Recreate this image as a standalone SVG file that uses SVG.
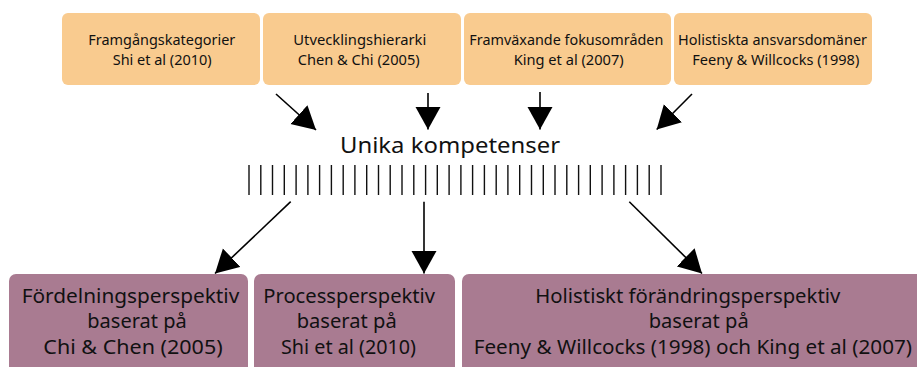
<svg xmlns="http://www.w3.org/2000/svg" width="917" height="367" viewBox="0 0 917 367">
  <style>
    .src { fill: #F9CB8F; }
    .persp { fill: #A97B91; }
    text { font-family: "Noto Sans", "Open Sans", "Liberation Sans", sans-serif; fill: #111; }
    .t { font-size: 14px; }
    .b { font-size: 20px; }
    .h { font-size: 22px; }
    .conn { stroke: #000; stroke-width: 1.6; fill: none; marker-end: url(#head); }
    .ticks { stroke: #111; stroke-width: 1.4; fill: none; }
  </style>
  <defs>
    <marker id="head" markerUnits="userSpaceOnUse" markerWidth="24" markerHeight="26" refX="23" refY="12.75" orient="auto">
      <path d="M0,0 L23,12.75 L0,25.5 z" fill="#000"/>
    </marker>
  </defs>
  <rect width="917" height="367" fill="#fff"/>

  <!-- source frameworks -->
  <g id="framgang">
    <rect class="src" x="62" y="13" width="198" height="72" rx="6"/>
    <text class="t" x="88.3" y="45" textLength="147" lengthAdjust="spacingAndGlyphs">Framgångskategorier</text>
    <text class="t" x="112.7" y="65" textLength="99" lengthAdjust="spacingAndGlyphs">Shi et al (2010)</text>
  </g>
  <g id="utveckling">
    <rect class="src" x="263" y="13" width="198" height="72" rx="6"/>
    <text class="t" x="293.3" y="45" textLength="133" lengthAdjust="spacingAndGlyphs">Utvecklingshierarki</text>
    <text class="t" x="297.7" y="65" textLength="122" lengthAdjust="spacingAndGlyphs">Chen &amp; Chi (2005)</text>
  </g>
  <g id="framvaxande">
    <rect class="src" x="464" y="13" width="207" height="72" rx="6"/>
    <text class="t" x="469.3" y="45" textLength="194" lengthAdjust="spacingAndGlyphs">Framväxande fokusområden</text>
    <text class="t" x="513.7" y="65" textLength="110" lengthAdjust="spacingAndGlyphs">King et al (2007)</text>
  </g>
  <g id="holistiskta">
    <rect class="src" x="674" y="13" width="198" height="72" rx="6"/>
    <text class="t" x="678" y="45" textLength="189" lengthAdjust="spacingAndGlyphs">Holistiskta ansvarsdomäner</text>
    <text class="t" x="692.3" y="65" textLength="167" lengthAdjust="spacingAndGlyphs">Feeny &amp; Willcocks (1998)</text>
  </g>

  <!-- central competences -->
  <g id="unika">
    <text class="h" x="340" y="152.7" textLength="220" lengthAdjust="spacingAndGlyphs">Unika kompetenser</text>
    <path class="ticks" d="M249,165v30 M260.8,165v30 M272.5,165v30 M284.3,165v30 M296.1,165v30 M307.9,165v30 M319.6,165v30 M331.4,165v30 M343.2,165v30 M354.9,165v30 M366.7,165v30 M378.5,165v30 M390.2,165v30 M402,165v30 M413.8,165v30 M425.6,165v30 M437.3,165v30 M449.1,165v30 M460.9,165v30 M472.6,165v30 M484.4,165v30 M496.2,165v30 M507.9,165v30 M519.7,165v30 M531.5,165v30 M543.3,165v30 M555,165v30 M566.8,165v30 M578.6,165v30 M590.3,165v30 M602.1,165v30 M613.9,165v30 M625.6,165v30 M637.4,165v30 M649.2,165v30 M661,165v30"/>
  </g>

  <!-- perspectives -->
  <g id="fordelning">
    <rect class="persp" x="9" y="274" width="239" height="110" rx="7"/>
    <text class="b" x="21.7" y="303" textLength="217.6" lengthAdjust="spacingAndGlyphs">Fördelningsperspektiv</text>
    <text class="b" x="87.3" y="328.3" textLength="99.4" lengthAdjust="spacingAndGlyphs">baserat på</text>
    <text class="b" x="43.3" y="354.3" textLength="179.4" lengthAdjust="spacingAndGlyphs">Chi &amp; Chen (2005)</text>
  </g>
  <g id="process">
    <rect class="persp" x="254" y="274" width="201" height="110" rx="7"/>
    <text class="b" x="263.3" y="303" textLength="171.7" lengthAdjust="spacingAndGlyphs">Processperspektiv</text>
    <text class="b" x="296.7" y="328.3" textLength="100" lengthAdjust="spacingAndGlyphs">baserat på</text>
    <text class="b" x="281" y="354.3" textLength="135" lengthAdjust="spacingAndGlyphs">Shi et al (2010)</text>
  </g>
  <g id="holistiskt">
    <rect class="persp" x="462" y="274" width="470" height="110" rx="7"/>
    <text class="b" x="535.3" y="303" textLength="305" lengthAdjust="spacingAndGlyphs">Holistiskt förändringsperspektiv</text>
    <text class="b" x="648.7" y="328.3" textLength="100" lengthAdjust="spacingAndGlyphs">baserat på</text>
    <text class="b" x="473.7" y="354.3" textLength="438.3" lengthAdjust="spacingAndGlyphs">Feeny &amp; Willcocks (1998) och King et al (2007)</text>
  </g>

  <!-- connectors -->
  <g id="connectors">
    <line class="conn" x1="276" y1="94" x2="316" y2="130"/>
    <line class="conn" x1="428" y1="93" x2="428" y2="129.5"/>
    <line class="conn" x1="540" y1="92" x2="540" y2="129.5"/>
    <line class="conn" x1="692" y1="94" x2="656.7" y2="129.5"/>
    <line class="conn" x1="290.7" y1="201.7" x2="215" y2="273.5"/>
    <line class="conn" x1="424" y1="201.7" x2="424" y2="273.5"/>
    <line class="conn" x1="629.3" y1="201.7" x2="702" y2="273.5"/>
  </g>
</svg>
